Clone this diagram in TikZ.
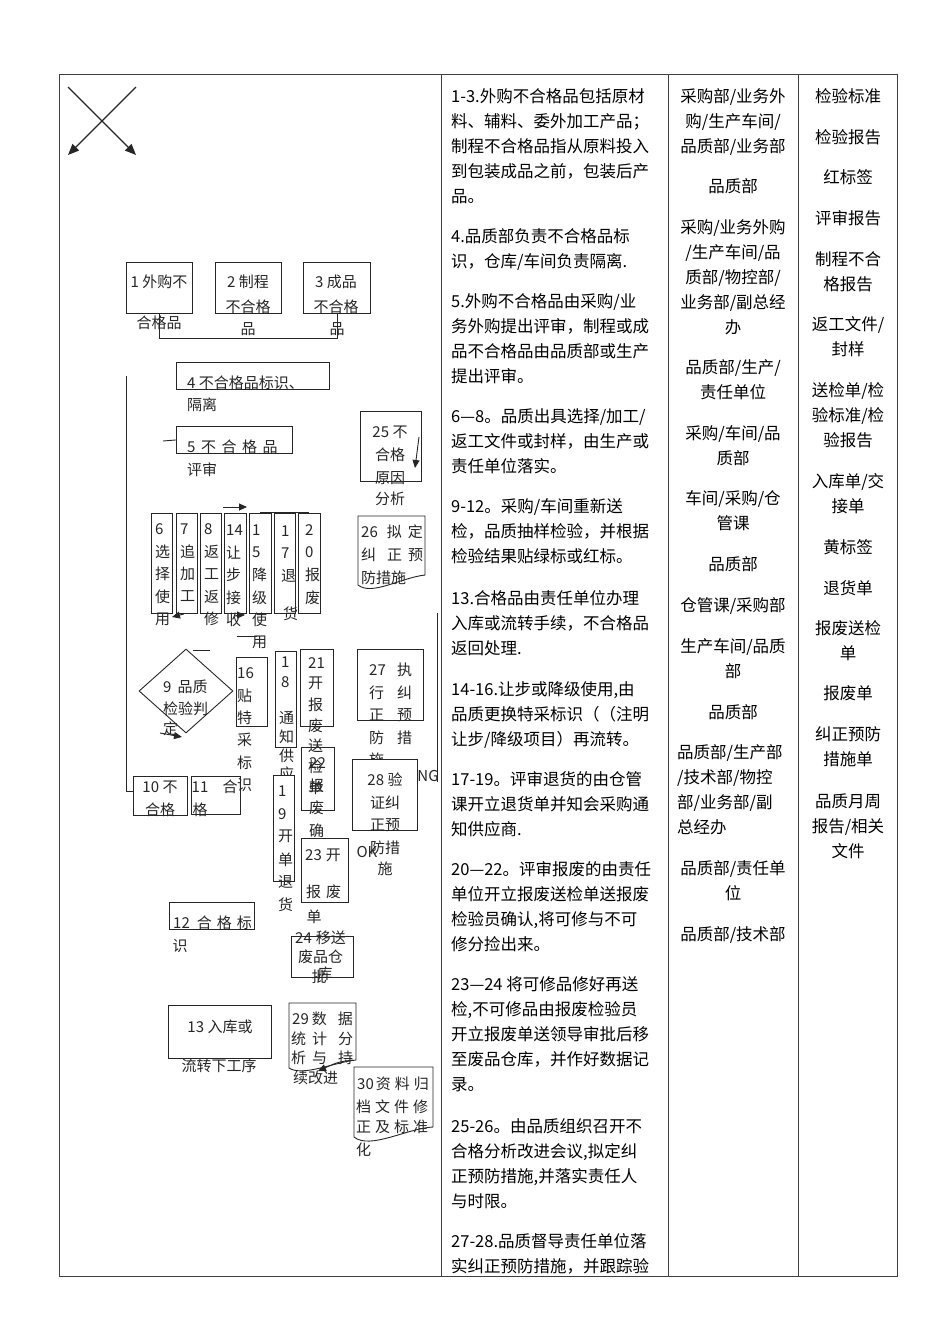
\documentclass[tikz,border=0pt]{standalone}
\usepackage{fontspec}
\setmainfont{Noto Sans CJK SC}
\usetikzlibrary{arrows.meta,shapes.geometric}
\newcommand{\bx}[5]{\node[box,anchor=north west,minimum width={#4-#2},minimum height={#5-#3}] (#1) at (#2,#3) {};}
\newcommand{\vcol}[5]{\foreach \ch [count=\nn from 0] in {#5} \node[tx,anchor=west] (#1-\nn) at (#2,#3+\nn*#4) {\ch};}
\tikzset{
  tabline/.style={draw=black!75,line width=0.9pt},
  box/.style={draw=black!85,line width=0.9pt,fill=white,inner sep=0pt},
  tx/.style={font=\fontsize{15}{18}\selectfont,text=black!85,inner sep=0pt},
  para/.style={anchor=north west,align=left,inner sep=0pt,font=\fontsize{16.5}{25}\selectfont},
  col/.style={anchor=north,align=center,inner sep=0pt,font=\fontsize{16.5}{25}\selectfont},
  conn/.style={draw=black!85,line width=0.9pt},
  arr/.style={conn,-{Triangle[length=8pt,width=7pt]}},
  bigarr/.style={conn,line width=1.2pt,-{Triangle[length=11pt,width=9pt]}}
}
\begin{document}
\begin{tikzpicture}[x=1pt,y=-1pt]
\useasboundingbox (0,0) rectangle (950,1344);
\draw[tabline] (59,74) rectangle (897,1276);
\draw[tabline] (441,74) -- (441,1276);
\draw[tabline] (668,74) -- (668,1276);
\draw[tabline] (798,74) -- (798,1276);

\begin{scope}
\clip (441,74) rectangle (668,1276);
\node[para] (p1) at (451,88.4) {1-3.外购不合格品包括原材\\料、辅料、委外加工产品；\\制程不合格品指从原料投入\\到包装成品之前，包装后产\\品。};
\node[para] (p2) at (451,228.4) {4.品质部负责不合格品标\\识，仓库/车间负责隔离.};
\node[para] (p3) at (451,293.4) {5.外购不合格品由采购/业\\务外购提出评审，制程或成\\品不合格品由品质部或生产\\提出评审。};
\node[para] (p4) at (451,408.4) {6—8。品质出具选择/加工/\\返工文件或封样，由生产或\\责任单位落实。};
\node[para] (p5) at (451,498.4) {9-12。采购/车间重新送\\检，品质抽样检验，并根据\\检验结果贴绿标或红标。};
\node[para] (p6) at (451,590.4) {13.合格品由责任单位办理\\入库或流转手续，不合格品\\返回处理.};
\node[para] (p7) at (451,681.4) {14-16.让步或降级使用,由\\品质更换特采标识（（注明\\让步/降级项目）再流转。};
\node[para] (p8) at (451,771.4) {17-19。评审退货的由仓管\\课开立退货单并知会采购通\\知供应商.};
\node[para] (p9) at (451,861.4) {20—22。评审报废的由责任\\单位开立报废送检单送报废\\检验员确认,将可修与不可\\修分捡出来。};
\node[para] (p10) at (451,976.4) {23—24 将可修品修好再送\\检,不可修品由报废检验员\\开立报废单送领导审批后移\\至废品仓库，并作好数据记\\录。};
\node[para] (p11) at (451,1118.4) {25-26。由品质组织召开不\\合格分析改进会议,拟定纠\\正预防措施,并落实责任人\\与时限。};
\node[para] (p12) at (451,1233.4) {27-28.品质督导责任单位落\\实纠正预防措施，并跟踪验};
\end{scope}

\node[col] (d1) at (733,88.4) {采购部/业务外\\购/生产车间/\\品质部/业务部};
\node[col] (d2) at (733,178.4) {品质部};
\node[col] (d3) at (733,219.4) {采购/业务外购\\/生产车间/品\\质部/物控部/\\业务部/副总经\\办};
\node[col] (d4) at (733,359.4) {品质部/生产/\\责任单位};
\node[col] (d5) at (733,425.4) {采购/车间/品\\质部};
\node[col] (d6) at (733,490.4) {车间/采购/仓\\管课};
\node[col] (d7) at (733,556.4) {品质部};
\node[col] (d8) at (733,597.4) {仓管课/采购部};
\node[col] (d9) at (733,638.4) {生产车间/品质\\部};
\node[col] (d10) at (733,704.4) {品质部};
\node[col,anchor=north west,align=left] (d11) at (677,744.4) {品质部/生产部\\/技术部/物控\\部/业务部/副\\总经办};
\node[col] (d12) at (733,860.4) {品质部/责任单\\位};
\node[col] (d13) at (733,926.4) {品质部/技术部};

\node[col] (f1) at (848,88.4) {检验标准};
\node[col] (f2) at (848,129.4) {检验报告};
\node[col] (f3) at (848,169.4) {红标签};
\node[col] (f4) at (848,210.4) {评审报告};
\node[col] (f5) at (848,251.4) {制程不合\\格报告};
\node[col] (f6) at (848,316.4) {返工文件/\\封样};
\node[col] (f7) at (848,382.4) {送检单/检\\验标准/检\\验报告};
\node[col] (f8) at (848,473.4) {入库单/交\\接单};
\node[col] (f9) at (848,539.4) {黄标签};
\node[col] (f10) at (848,580.4) {退货单};
\node[col] (f11) at (848,620.4) {报废送检\\单};
\node[col] (f12) at (848,685.4) {报废单};
\node[col] (f13) at (848,726.4) {纠正预防\\措施单};
\node[col] (f14) at (848,793.4) {品质月周\\报告/相关\\文件};

\coordinate (xa) at (68,87);
\coordinate (xb) at (136,155);
\coordinate (xc) at (136,87);
\coordinate (xd) at (68,155);
\draw[bigarr] (xa) -- (xb);
\draw[bigarr] (xc) -- (xd);

\bx{b1}{126}{262}{192}{313}
\bx{b2}{215}{262}{281}{313}
\bx{b3}{303}{262}{370}{313}
\bx{b4}{176}{362}{329}{389}
\bx{b5}{176}{426}{292}{453}
\bx{b25}{360}{411}{421}{481}
\bx{b6}{151}{513}{172}{613}
\bx{b7}{176}{513}{197}{613}
\bx{b8}{200}{513}{221}{613}
\bx{b14}{224}{513}{246}{613}
\bx{b15}{249}{513}{271}{613}
\bx{b17}{274}{513}{295}{613}
\bx{b20}{298}{513}{320}{613}
\bx{b16}{236}{657}{267}{726}
\bx{b18}{275}{651}{296}{747}
\bx{b21}{300}{649}{333}{726}
\bx{b22}{301}{747}{334}{810}
\bx{b27}{357}{649}{423}{720}
\bx{b10}{133}{776}{187}{815}
\bx{b11}{191}{776}{240}{814}
\bx{b23}{301}{838}{348}{902}
\bx{b12}{169}{902}{254}{929}
\bx{b24}{291}{936}{353}{977}
\bx{b13}{168}{1005}{271}{1058}
\node[box,diamond,minimum width=94,minimum height=84] (b9) at (186,691) {};
\draw[box] (358,516) -- (425,516) -- (425,575) .. controls (400,578) and (372,596) .. (358,585) -- cycle;
\draw[box] (289,1003) -- (356,1003) -- (356,1060) .. controls (335,1062) and (303,1077) .. (289,1068) -- cycle;
\draw[box] (354,1067) -- (433,1067) -- (433,1127) .. controls (408,1128) and (370,1150) .. (354,1137) -- cycle;

\node[tx] (t1a) at (159,282) {1 外购不};
\node[tx] (t1b) at (159,323) {合格品};
\node[tx] (t2a) at (248,282) {2 制程};
\node[tx] (t2b) at (248,307) {不合格};
\node[tx] (t2c) at (248,329) {品};
\node[tx] (t3a) at (336,282) {3 成品};
\node[tx] (t3b) at (336,307) {不合格};
\node[tx] (t3c) at (337,329) {品};
\node[tx,anchor=west] (t4a) at (187,383) {4 不合格品标识、};
\node[tx,anchor=west] (t4b) at (187,405) {隔离};
\node[tx,anchor=west] (t5a) at (187,447) {5\hspace{5.5pt}不\hspace{5.5pt}合\hspace{5.5pt}格\hspace{5.5pt}品};
\node[tx,anchor=west] (t5b) at (187,470) {评审};
\node[tx] (t25a) at (390,432) {25 不};
\node[tx] (t25b) at (390,455) {合格};
\node[tx] (t25c) at (390,478) {原因};
\node[tx] (t25d) at (390,499) {分析};
\node[tx,anchor=west] (t26a) at (361,532) {26\hspace{9pt}拟\hspace{6pt}定};
\node[tx,anchor=west] (t26b) at (361,555) {纠\hspace{11pt}正\hspace{6pt}预};
\node[tx,anchor=west] (t26c) at (361,578) {防措施};
\vcol{t6}{155}{529}{22.5}{6,选,择,使,用}
\vcol{t7}{180}{529}{22.5}{7,追,加,工}
\vcol{t8}{204}{529}{22.5}{8,返,工,返,修}
\vcol{t14}{226}{530}{22.5}{14,让,步,接,收}
\vcol{t15}{252}{530}{22.5}{1,5,降,级,使,用}
\vcol{t17}{281}{531}{22.5}{1,7,退}
\node[tx,anchor=west] (t17d) at (283,614) {货};
\vcol{t20}{305}{530}{22.5}{2,0,报,废}
\node[tx,anchor=west] (t9a) at (163,687) {9\hspace{6pt}品质};
\node[tx,anchor=west] (t9b) at (163,709) {检验判};
\node[tx,anchor=west] (t9c) at (163,729) {定};
\vcol{t16}{237}{673}{22.4}{16,贴,特,采,标,识}
\vcol{t18a}{281}{662}{20}{1,8}
\vcol{t18b}{279}{718}{18.7}{通,知,供,应}
\vcol{t21}{308}{663}{20.8}{21,开,报,废,送,检,单}
\vcol{t22}{309}{763}{22.5}{22,报,废,确}
\vcol{t27a}{369}{670}{22.5}{27,行,正,防,施}
\vcol{t27b}{397}{670}{22.5}{执,纠,预,措}
\node[tx] (t10a) at (160,787) {10 不};
\node[tx] (t10b) at (160,810) {合格};
\node[tx] (t11a) at (200,787) {11};
\node[tx] (t11b) at (230,787) {合};
\node[tx] (t11c) at (200,810) {格};
\node[tx,anchor=west] (t23a) at (305,855) {23\hspace{4pt}开};
\node[tx,anchor=west] (t23b) at (306,892) {报\hspace{5pt}废};
\node[tx] (t23c) at (314,917) {单};
\node[tx,anchor=west] (t12a) at (173,923) {12\hspace{7pt}合\hspace{5pt}格\hspace{5pt}标};
\node[tx] (t12b) at (180,946) {识};
\node[tx,anchor=west] (t24a) at (295,938) {24\hspace{4pt}移送};
\node[tx,anchor=west] (t24b) at (298,957) {废品仓};
\node[tx] (t24c) at (325,974) {库};
\node[tx] (t24d) at (319,977) {批};
\node[tx] (t13a) at (220,1027) {13 入库或};
\node[tx] (t13b) at (219,1066) {流转下工序};
\node[tx,anchor=west] (t29a) at (292,1019) {29\hspace{3pt}数\hspace{11pt}据};
\node[tx,anchor=west] (t29b) at (291,1039) {统\hspace{6pt}计\hspace{11pt}分};
\node[tx,anchor=west] (t29c) at (291,1058) {析\hspace{6pt}与\hspace{11pt}持};
\node[tx,anchor=west] (t29d) at (293,1078) {续改进};
\node[tx,anchor=west] (t30a) at (357,1084) {30\hspace{2pt}资\hspace{4pt}料\hspace{4pt}归};
\node[tx,anchor=west] (t30b) at (356,1107) {档\hspace{4pt}文\hspace{4pt}件\hspace{4pt}修};
\node[tx,anchor=west] (t30c) at (356,1127) {正\hspace{4pt}及\hspace{4pt}标\hspace{4pt}准};
\node[tx,anchor=west] (t30d) at (356,1150) {化};

\bx{b19}{273}{775}{294}{881}
\bx{b28}{352}{759}{417}{830}
\vcol{t19}{278}{791}{22.8}{1,9,开,单,退,货}
\node[tx] (t28a) at (385,780) {28 验};
\node[tx] (t28b) at (385,803) {证纠};
\node[tx] (t28c) at (385,825) {正预};
\node[tx] (t28d) at (385,848) {防措};
\node[tx] (t28e) at (385,869) {施};
\node[tx] (ng) at (428,776) {NG};
\node[tx] (ok) at (367,852) {OK};

\draw[conn] (b1.south) -- ++(0,25) -| (b3.south);
\coordinate (lt) at (126,376);
\coordinate (lb) at (126,791);
\draw[conn] (lt) -- (lb) -- (lb -| b10.west);
\coordinate (rt) at (437,613);
\coordinate (rb) at (437,782);
\draw[conn] (rt) -- (rb);
\coordinate (a14s) at (223,507);
\coordinate (a14e) at (247,507);
\draw[arr] (a14s) -- (a14e);
\coordinate (a25s) at (419,437);
\coordinate (a25e) at (415,468);
\draw[arr] (a25s) -- (a25e);
\coordinate (a6s) at (184,614);
\coordinate (a6e) at (172,617);
\draw[arr] (a6s) -- (a6e);
\coordinate (a14bs) at (236,615);
\coordinate (a14be) at (245,615);
\draw[arr] (a14bs) -- (a14be);
\coordinate (a9s) at (160,733);
\coordinate (a9e) at (182,737);
\draw[arr] (a9s) -- (a9e);
\coordinate (a29s) at (353,1060);
\coordinate (a29e) at (318,1071);
\draw[arr] (a29s) .. controls (338,1062) .. (a29e);
\draw[conn] (163,441) -- (b5.west);
\draw[conn] (260,512) -- (309,512);
\draw[conn] (193,650) -- (210,650);
\draw[conn] (237,636) -- (257,636);
\end{tikzpicture}
\end{document}
